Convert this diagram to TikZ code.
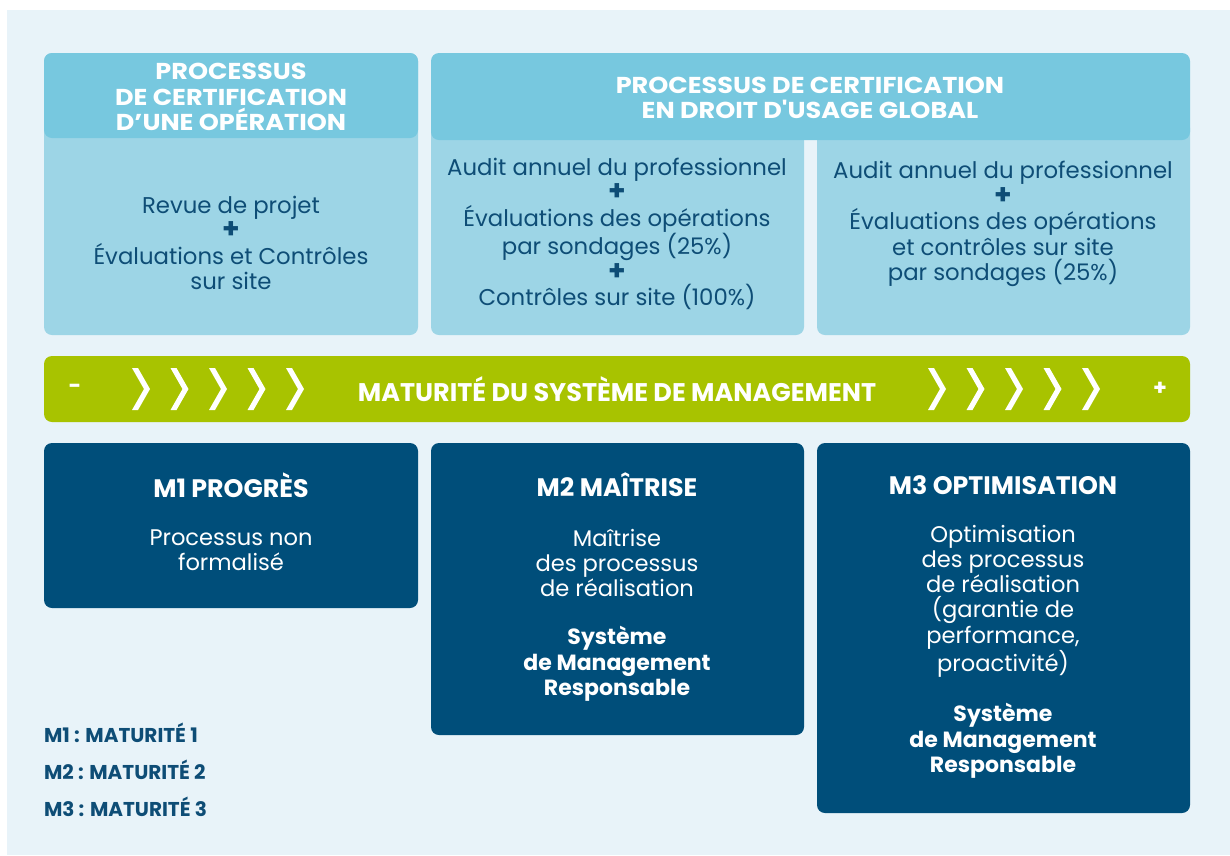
\documentclass[tikz,border=0pt]{standalone}
\usepackage{fontspec}
\setmainfont{Poppins}
\newfontfamily\widefont{Poppins}[FakeStretch=1.11]
\definecolor{bgc}{HTML}{E8F3F9}
\definecolor{headc}{HTML}{77C8DF}
\definecolor{bodyc}{HTML}{9DD5E6}
\definecolor{greenc}{HTML}{A8C300}
\definecolor{darkc}{HTML}{004E7A}
\definecolor{txtc}{HTML}{0E4D76}
\tikzset{
  every node/.style={inner sep=0pt, outer sep=0pt},
  headbox/.style={fill=headc, rounded corners=8pt},
  bodybox/.style={fill=bodyc, rounded corners=8pt},
  darkbox/.style={fill=darkc, rounded corners=8pt},
  headtxt/.style={text=white, align=center, font=\widefont\fontsize{23}{25.5}\selectfont\bfseries},
  bodytxt/.style={text=txtc, align=center, font=\fontsize{22.8}{25.5}\selectfont},
  darktitle/.style={text=white, font=\fontsize{25.3}{25}\selectfont\bfseries},
  darktxt/.style={text=white, align=center, font=\fontsize{22.6}{25.3}\selectfont},
  darkbold/.style={text=white, align=center, font=\fontsize{22}{25.5}\selectfont\bfseries},
  legtxt/.style={text=txtc, anchor=west, font=\fontsize{20}{20}\selectfont\bfseries},
  chev/.style={fill=white},
}
\newcommand{\plusline}{{\fontsize{28}{25.5}\selectfont\bfseries +}}
\begin{document}
\begin{tikzpicture}[x=1pt,y=-1pt]
\useasboundingbox (0,0) rectangle (1230,855);
\fill[bgc] (7,10) rectangle (1230,855);
% top-left box
\fill[bodybox] (44,53) rectangle (418,335);
\fill[headc, rounded corners=8pt] (44,138) |- (418,53) -- (418,138) -- cycle;
\node[headtxt] (h1) at (231,97) {PROCESSUS\\DE CERTIFICATION\\D’UNE OPÉRATION};
\node[bodytxt] (b1) at (231,243) {Revue de projet\\\plusline\\Évaluations et Contrôles\\sur site};
% top-right
\fill[bodybox] (431,120) rectangle (804,335);
\fill[bodybox] (817,120) rectangle (1190,335);
\fill[headc, rounded corners=8pt] (431,140) |- (1190,53) -- (1190,140) -- cycle;
\node[headtxt] (h2) at (810,98) {PROCESSUS DE CERTIFICATION\\EN DROIT D'USAGE GLOBAL};
\node[bodytxt] (b2) at (617,234) {Audit annuel du professionnel\\\plusline\\Évaluations des opérations\\par sondages (25\%)\\\plusline\\Contrôles sur site (100\%)};
\node[bodytxt] (b3) at (1003,224) {Audit annuel du professionnel\\\plusline\\Évaluations des opérations\\et contrôles sur site\\par sondages (25\%)};
% green bar
\fill[greenc, rounded corners=8pt] (44,356) rectangle (1190,422);
\node[text=white, font=\fontsize{22}{22}\selectfont\bfseries] (minus) at (75,389) {-};
\node[text=white, font=\fontsize{22}{22}\selectfont\bfseries] (plus) at (1160,389) {+};
\node[text=white, font=\fontsize{25.5}{26}\selectfont\bfseries] (mat) at (617,389) {MATURITÉ DU SYSTÈME DE MANAGEMENT};
\foreach \x in {132,170.5,209,247.5,286,928,966.5,1005,1043.5,1082}{
  \fill[chev] (\x,368) -- (\x+6,368) -- (\x+18,389) -- (\x+6,410) -- (\x,410) -- (\x+12,389) -- cycle;
}
% dark boxes
\fill[darkbox] (44,443) rectangle (418,608);
\fill[darkbox] (431,443) rectangle (804,735);
\fill[darkbox] (817,443) rectangle (1190,813);
\node[darktitle] (t1) at (231,485) {M1 PROGRÈS};
\node[darktitle] (t2) at (617,485) {M2 MAÎTRISE};
\node[darktitle] (t3) at (1003,485) {M3 OPTIMISATION};
\node[darktxt] (d1) at (231,550) {Processus non\\formalisé};
\node[darktxt] (d2) at (617,563) {Maîtrise\\des processus\\de réalisation};
\node[darkbold] (s2) at (617,664) {Système\\de Management\\Responsable};
\node[darktxt] (d3) at (1003,601) {Optimisation\\des processus\\de réalisation\\(garantie de\\performance,\\proactivité)};
\node[darkbold] (s3) at (1003,741) {Système\\de Management\\Responsable};
% legend
\node[legtxt] (l1) at (44,733) {M1 : MATURITÉ 1};
\node[legtxt] (l2) at (44,770) {M2 : MATURITÉ 2};
\node[legtxt] (l3) at (44,807) {M3 : MATURITÉ 3};
\end{tikzpicture}
\end{document}
